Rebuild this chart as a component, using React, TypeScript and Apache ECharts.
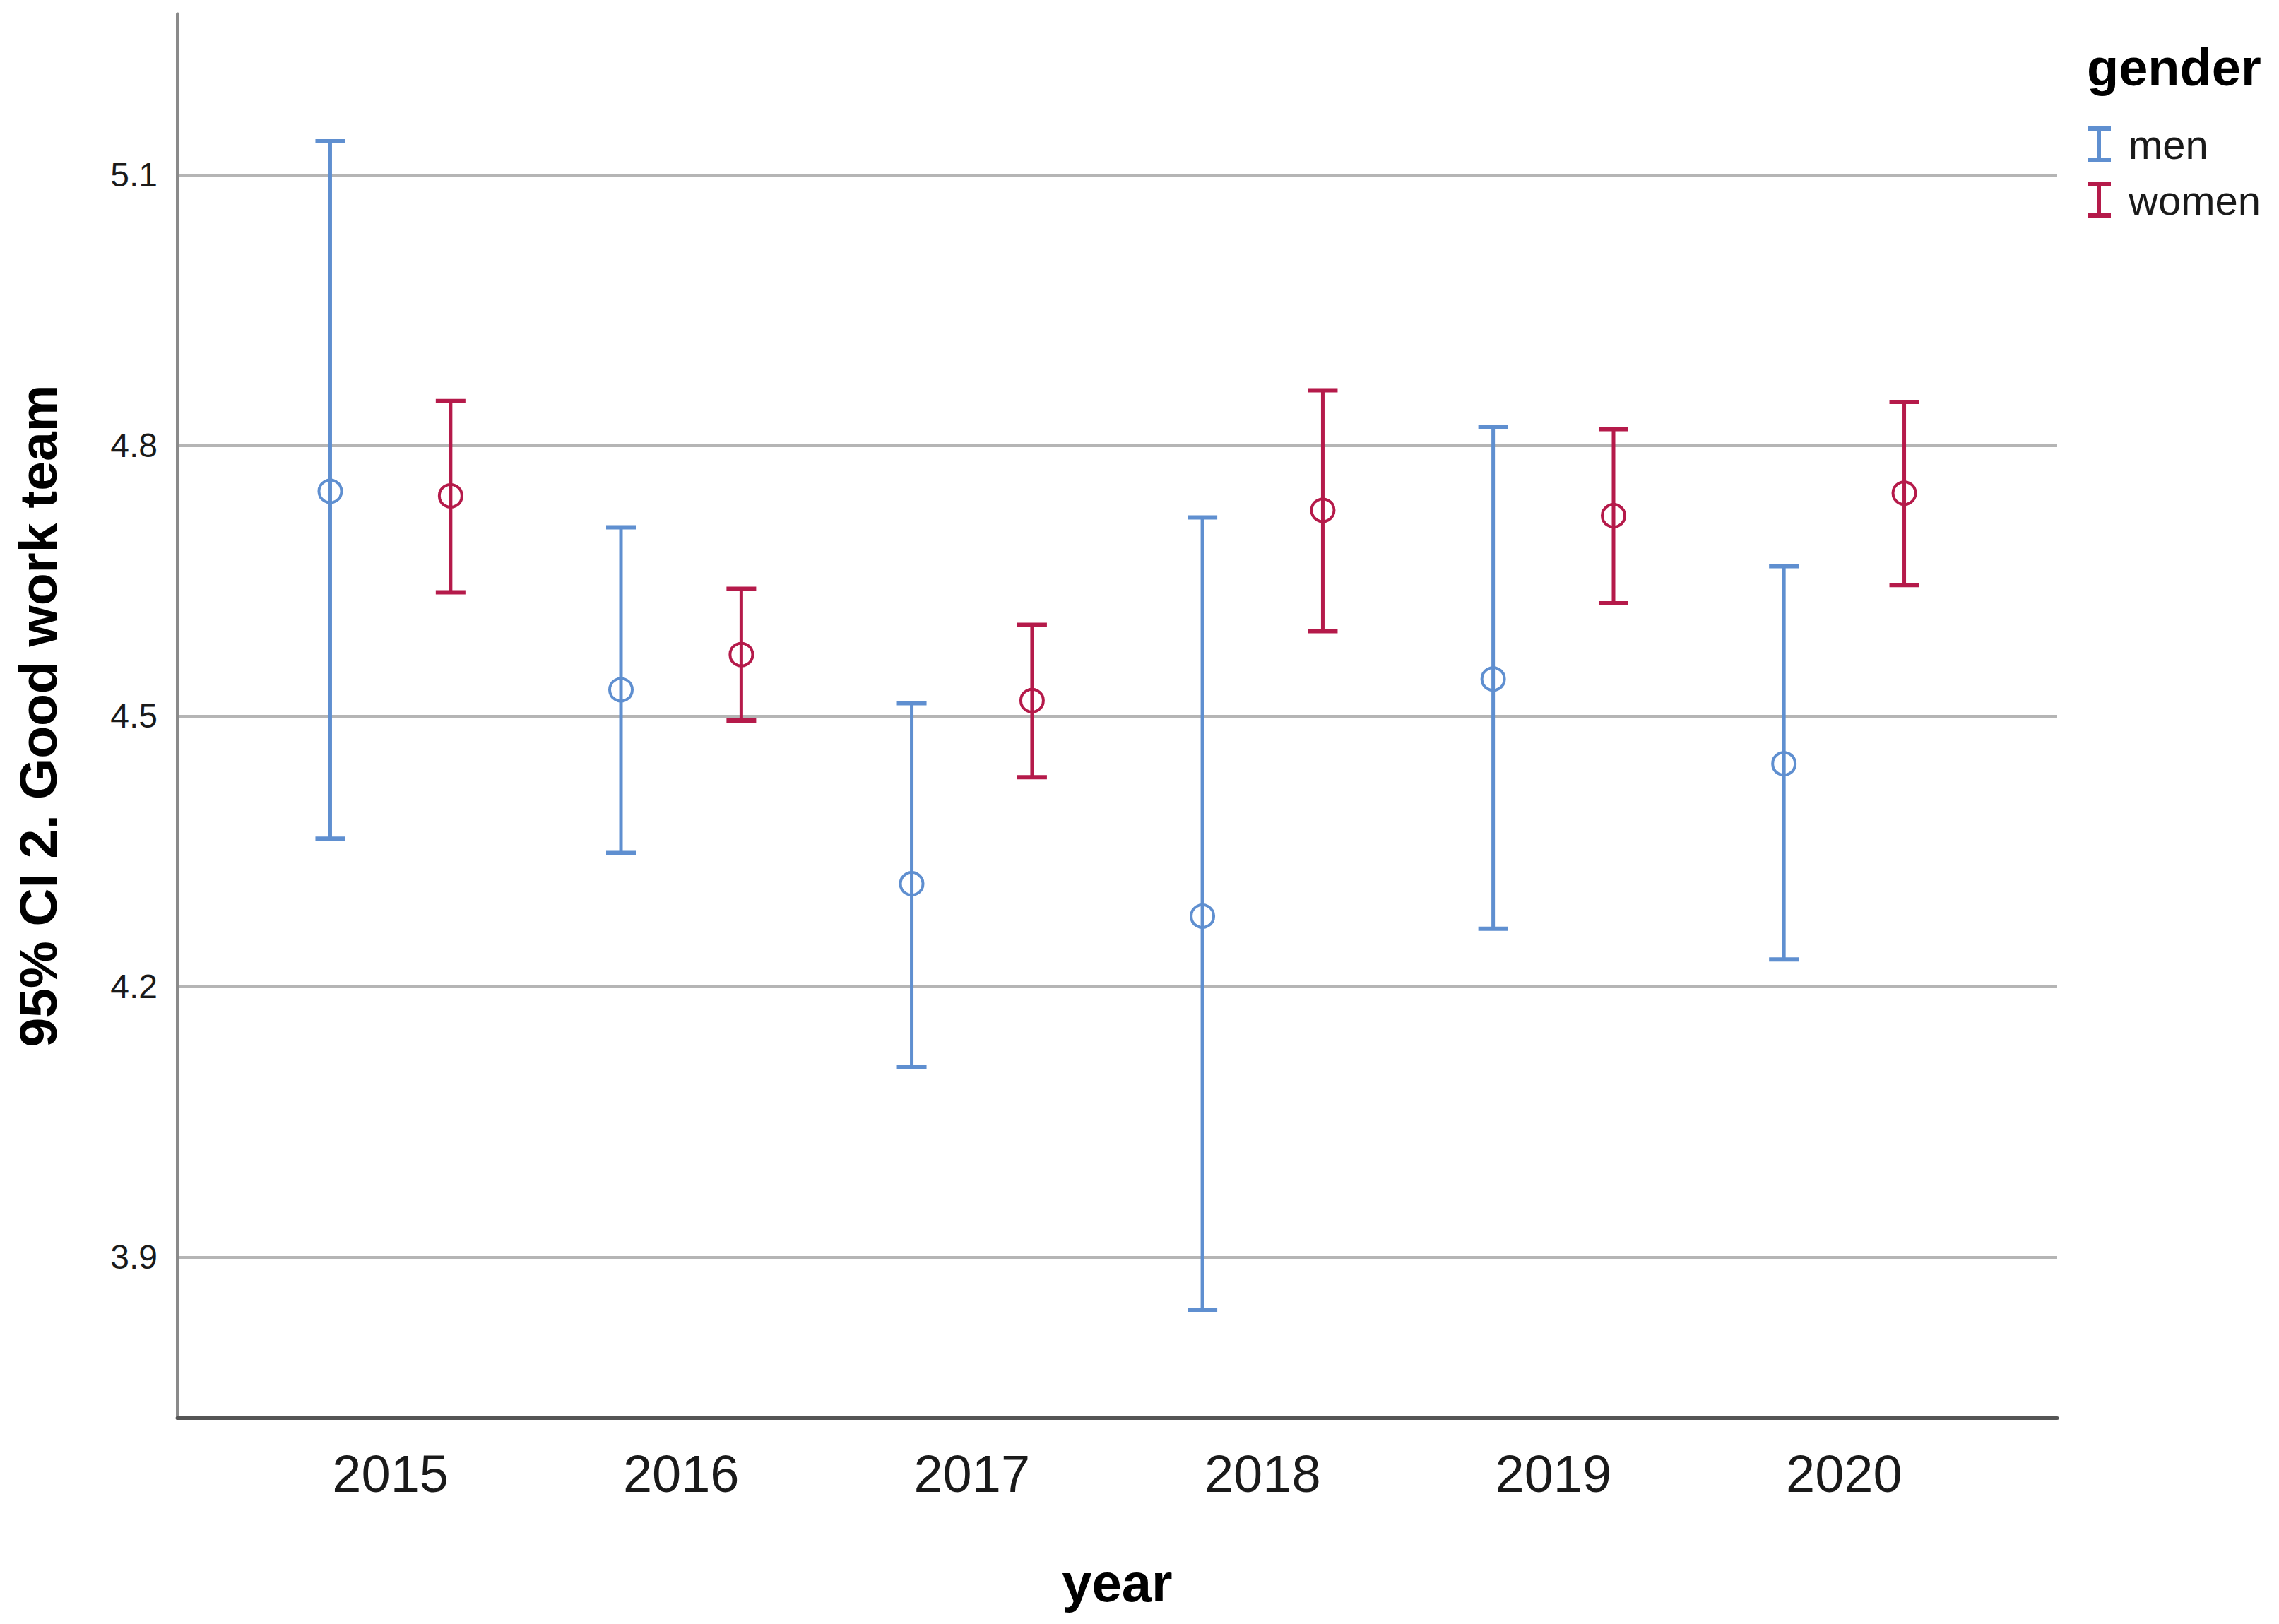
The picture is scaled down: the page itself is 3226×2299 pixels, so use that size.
import React, { useEffect, useRef } from "react";
import * as echarts from "echarts";

const years = [2015, 2016, 2017, 2018, 2019, 2020];
const yTicks = [3.9, 4.2, 4.5, 4.8, 5.1];

const menMean = [4.749, 4.529, 4.314, 4.278, 4.541, 4.447];
const menLow = [4.364, 4.348, 4.111, 3.841, 4.264, 4.230];
const menHigh = [5.137, 4.709, 4.514, 4.720, 4.820, 4.666];

const womenMean = [4.744, 4.568, 4.517, 4.728, 4.722, 4.747];
const womenLow = [4.637, 4.495, 4.432, 4.594, 4.625, 4.645];
const womenHigh = [4.849, 4.641, 4.601, 4.861, 4.818, 4.848];

const MEN_COLOR = "#5f8fd0";
const WOMEN_COLOR = "#b51a4a";
const FONT = "'Liberation Sans', Arial, sans-serif";
const GROUP_OFFSET = 0.207;

function makeRender(color: string) {
  return (params: any, api: any) => {
    const x = api.value(0);
    const lo = api.value(1);
    const mean = api.value(2);
    const hi = api.value(3);
    const pLo = api.coord([x, lo]);
    const pHi = api.coord([x, hi]);
    const pM = api.coord([x, mean]);
    const half = 21;
    return {
      type: "group",
      children: [
        {
          type: "line",
          shape: { x1: pHi[0], y1: pHi[1], x2: pLo[0], y2: pLo[1] },
          style: { stroke: color, lineWidth: 5 },
        },
        {
          type: "line",
          shape: { x1: pHi[0] - half, y1: pHi[1], x2: pHi[0] + half, y2: pHi[1] },
          style: { stroke: color, lineWidth: 6 },
        },
        {
          type: "line",
          shape: { x1: pLo[0] - half, y1: pLo[1], x2: pLo[0] + half, y2: pLo[1] },
          style: { stroke: color, lineWidth: 6 },
        },
        {
          type: "circle",
          shape: { cx: pM[0], cy: pM[1], r: 16 },
          style: { stroke: color, fill: "none", lineWidth: 4 },
        },
      ],
    };
  };
}

export default function App() {
  const ref = useRef<HTMLDivElement>(null);
  useEffect(() => {
    if (!ref.current) return;
    const chart = echarts.init(ref.current, null, { renderer: "svg" });
    const menData = years.map((y, i) => [y - GROUP_OFFSET, menLow[i], menMean[i], menHigh[i]]);
    const womenData = years.map((y, i) => [y + GROUP_OFFSET, womenLow[i], womenMean[i], womenHigh[i]]);
    chart.setOption({
      animation: false,
      backgroundColor: "#ffffff",
      grid: { left: 251, right: 314, top: 20, bottom: 292, containLabel: false },
      legend: {
        orient: "vertical",
        left: 2950,
        top: 170,
        itemWidth: 33,
        itemHeight: 50,
        itemGap: 21,
        icon: "path://M0,0H33V6H19V44H33V50H0V44H14V6H0Z",
        textStyle: { fontSize: 58, color: "#1a1a1a", fontFamily: FONT, padding: [0, 0, 0, 20] },
        data: ["men", "women"],
      },
      graphic: [
        {
          type: "text",
          left: 2954,
          top: 58,
          style: { text: "gender", fontSize: 74, fontWeight: "bold", fill: "#000", fontFamily: FONT },
        },
      ],
      xAxis: {
        type: "value",
        min: 2014.267,
        max: 2020.733,
        name: "year",
        nameLocation: "middle",
        nameGap: 195,
        nameTextStyle: { fontSize: 76, fontWeight: "bold", color: "#000", fontFamily: FONT },
        axisLine: { show: true, onZero: false, lineStyle: { color: "#555555", width: 5 } },
        axisTick: { show: false, customValues: years },
        axisLabel: {
          customValues: years,
          formatter: (v: number) => String(v),
          fontSize: 74,
          color: "#1a1a1a",
          fontFamily: FONT,
          margin: 42,
        },
        splitLine: { show: false },
      },
      yAxis: {
        type: "value",
        min: 3.722,
        max: 5.278,
        name: "95% CI 2. Good work team",
        nameLocation: "middle",
        nameRotate: 90,
        nameGap: 160,
        nameTextStyle: { fontSize: 75, fontWeight: "bold", color: "#000", fontFamily: FONT },
        axisLine: { show: true, lineStyle: { color: "#8a8a8a", width: 5 } },
        axisTick: { show: false, customValues: yTicks },
        axisLabel: {
          customValues: yTicks,
          formatter: (v: number) => v.toFixed(1),
          fontSize: 48,
          color: "#1a1a1a",
          fontFamily: FONT,
          margin: 28,
        },
        splitLine: { show: true, lineStyle: { color: "#b5b5b5", width: 4 } },
      },
      series: [
        {
          name: "men",
          type: "custom",
          itemStyle: { color: MEN_COLOR },
          renderItem: makeRender(MEN_COLOR),
          encode: { x: 0, y: [1, 2, 3] },
          data: menData,
        },
        {
          name: "women",
          type: "custom",
          itemStyle: { color: WOMEN_COLOR },
          renderItem: makeRender(WOMEN_COLOR),
          encode: { x: 0, y: [1, 2, 3] },
          data: womenData,
        },
      ],
    });
    return () => chart.dispose();
  }, []);
  return (
    <div
      ref={ref}
      style={{ position: "fixed", left: 0, top: 0, width: 3226, height: 2299 }}
    />
  );
}
